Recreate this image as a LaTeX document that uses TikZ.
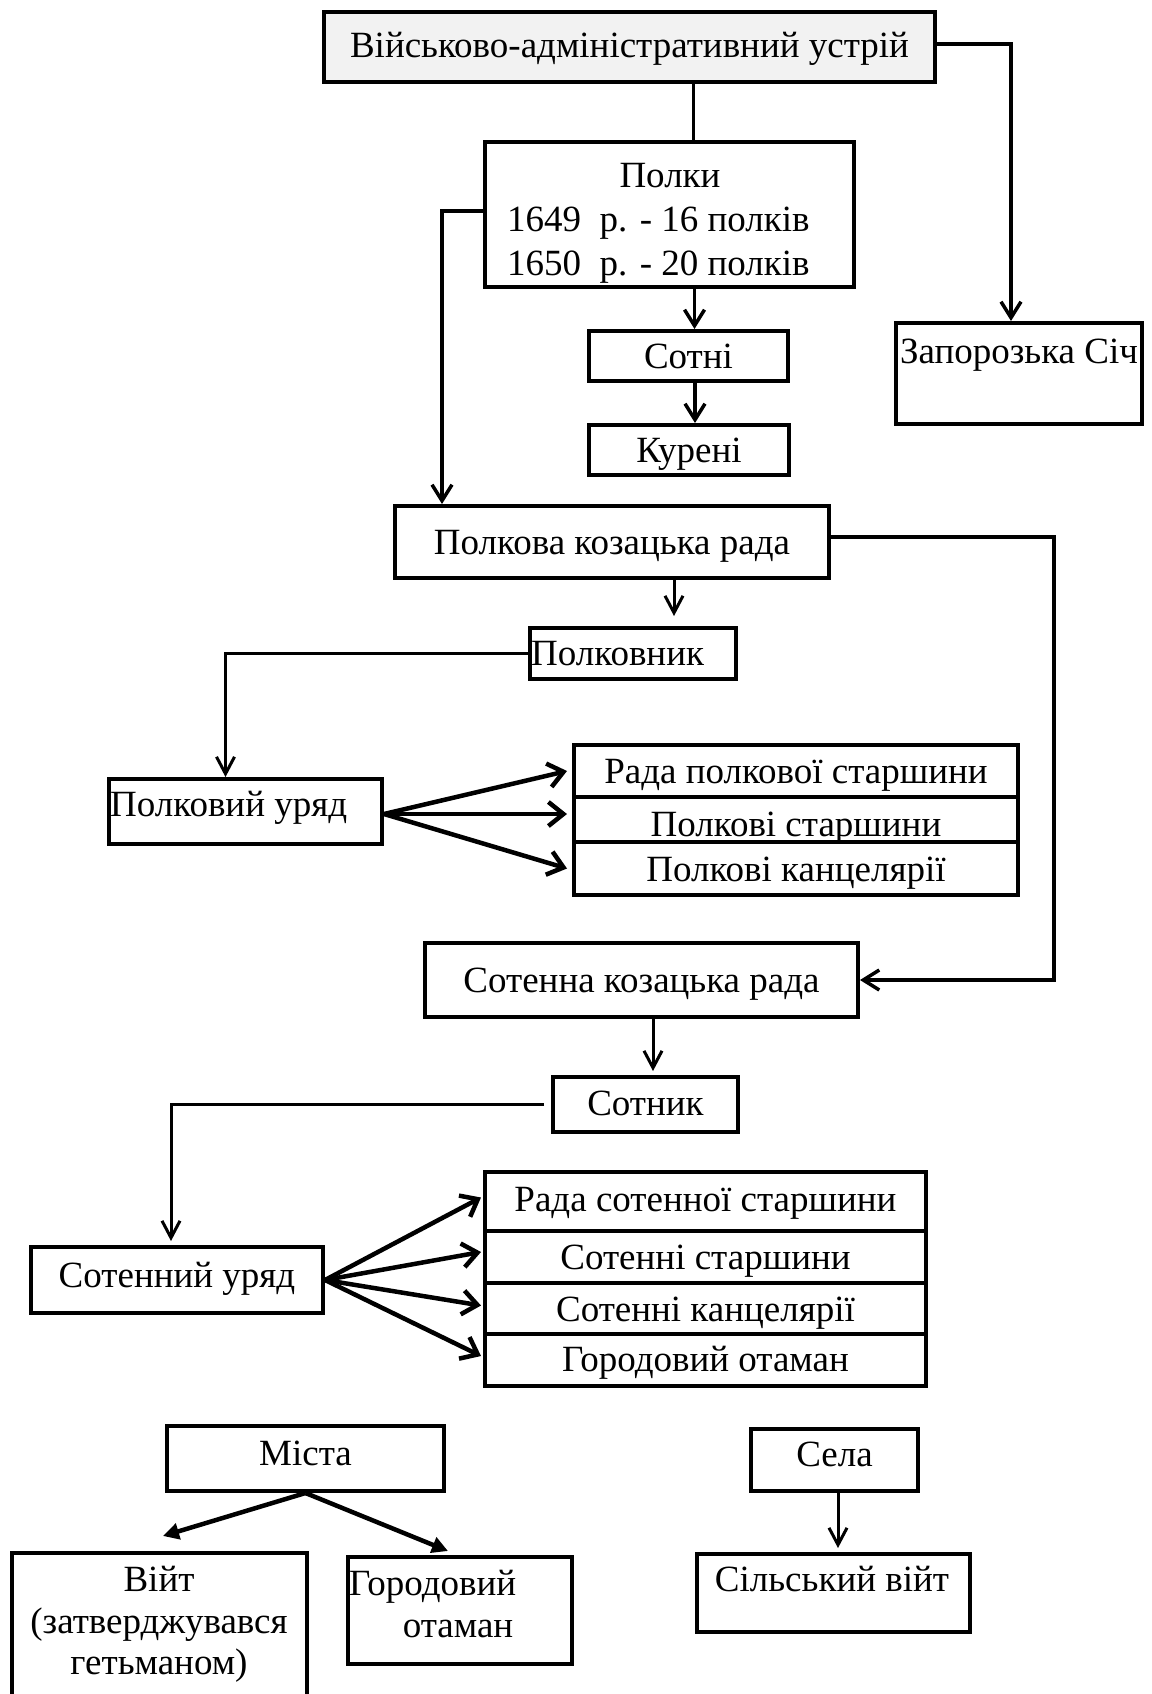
\documentclass[tikz,border=0pt]{standalone}
\usepackage{fontspec}
\setmainfont{Liberation Serif}
\usetikzlibrary{arrows.meta}
\definecolor{titlegray}{HTML}{F2F2F2}
\begin{document}
\begin{tikzpicture}[x=1pt,y=-1pt,
  box/.style={draw, line width=4pt, inner sep=0pt, text height=25pt, text depth=0pt, font=\fontsize{37}{44}\selectfont},
  txt/.style={inner sep=0pt, text height=25pt, text depth=0pt, font=\fontsize{37}{44}\selectfont},
  conn/.style={line width=3.5pt},
  arr/.style={line width=3.5pt, -{Straight Barb[length=16pt,width=20pt]}},
  arrt/.style={line width=3pt, -{Straight Barb[length=17pt,width=18pt]}},
  fan/.style={line width=4.5pt, -{Straight Barb[length=15pt,width=24pt]}},
  tri/.style={line width=4.5pt, -{Triangle[length=16pt,width=16pt]}},
]
\path[use as bounding box, fill=white] (0,0) rectangle (1151,1694);
\clip (0,0) rectangle (1151,1694);

% top part
\node[box, fill=titlegray, minimum width=611pt, minimum height=70pt, text depth=3pt] (title) at (629.5,47) {Військово-адміністративний устрій};
\node[box, minimum width=369pt, minimum height=145pt] (polky) at (669.5,214.5) {};
\node[txt] (polky-t1) at (670,175) {Полки};
\node[txt, anchor=west] (polky-t2) at (507,219) {1649\ \ р. - 16 полків};
\node[txt, anchor=west] (polky-t3) at (507,263) {1650\ \ р. - 20 полків};
\node[box, minimum width=199pt, minimum height=50pt] (sotni) at (688.5,356) {Сотні};
\node[box, minimum width=200pt, minimum height=50pt] (kureni) at (689,450) {Курені};
\node[box, minimum width=246pt, minimum height=101pt] (sich) at (1019,373.5) {};
\node[txt] (sich-t) at (1019,351) {Запорозька Січ};

% polk level
\node[box, minimum width=434pt, minimum height=72pt] (pkr) at (612,542) {Полкова козацька рада};
\node[box, minimum width=206pt, minimum height=51pt] (polkovnyk) at (633,653.5) {};
\node[txt, anchor=west] (polkovnyk-t) at (531,653) {Полковник};
\node[box, minimum width=273pt, minimum height=65pt] (puryad) at (245.5,811.5) {};
\node[txt, anchor=west] (puryad-t) at (110,803.5) {Полковий уряд};
\node[box, minimum width=444pt, minimum height=52pt] (rps) at (796,771) {Рада полкової старшини};
\node[box, minimum width=444pt, minimum height=45pt, text height=33.6pt] (ps) at (796,819.5) {Полкові старшини};
\node[box, minimum width=444pt, minimum height=53pt] (pk) at (796,868.5) {Полкові канцелярії};

% sotnia level
\node[box, minimum width=433pt, minimum height=74pt] (skr) at (641.5,980) {Сотенна козацька рада};
\node[box, minimum width=185pt, minimum height=55pt, text depth=3pt] (sotnyk) at (645.5,1104.5) {Сотник};
\node[box, minimum width=292pt, minimum height=66pt, text depth=11pt] (suryad) at (177,1280) {Сотенний уряд};
\node[box, minimum width=441pt, minimum height=59pt, text depth=6pt] (rss) at (705.5,1201.5) {Рада сотенної старшини};
\node[box, minimum width=441pt, minimum height=52pt] (ss) at (705.5,1257) {Сотенні старшини};
\node[box, minimum width=441pt, minimum height=51pt] (sk) at (705.5,1308.5) {Сотенні канцелярії};
\node[box, minimum width=441pt, minimum height=52pt, text depth=3pt] (go) at (705.5,1360) {Городовий отаман};

% bottom
\node[box, minimum width=277pt, minimum height=65pt, text depth=12pt] (mista) at (305.5,1458.5) {Міста};
\node[box, minimum width=295pt, minimum height=167pt] (viyt) at (159.5,1636.5) {};
\node[txt] (viyt-t1) at (159,1579) {Війт};
\node[txt] (viyt-t2) at (159,1621) {(затверджувався};
\node[txt] (viyt-t3) at (159,1662) {гетьманом)};
\node[box, minimum width=224pt, minimum height=107pt] (gorod) at (460,1610.5) {};
\node[txt, anchor=west] (gorod-t1) at (349,1583) {Городовий};
\node[txt] (gorod-t2) at (458,1625) {отаман};
\node[box, minimum width=167pt, minimum height=62pt, text depth=12pt] (sela) at (834.5,1460) {Села};
\node[box, minimum width=273pt, minimum height=78pt] (silviyt) at (833.5,1593) {};
\node[txt] (silviyt-t) at (832,1579) {Сільський війт};

% connectors
\draw[arr] ([yshift=3pt]title.east) -| ([xshift=-8pt]sich.north);
\draw[conn] ([xshift=64pt]title.south) -- ([xshift=64pt]title.south |- polky.north);
\draw[arr] ([xshift=6pt]sotni.north |- polky.south) -- ([xshift=6pt]sotni.north);
\draw[arr] ([xshift=6pt]kureni.north |- sotni.south) -- ([xshift=6pt]kureni.north);
\draw[arr] ([yshift=3.5pt]polky.west) -| ([xshift=-170pt]pkr.north);
\coordinate (rc) at (1054,700);
\draw[arr] ([yshift=5pt]pkr.east) -| (rc) |- (skr.east);
\draw[arrt, shorten >=10pt] ([xshift=41pt]polkovnyk.north |- pkr.south) -- ([xshift=41pt]polkovnyk.north);
\draw[arrt] (polkovnyk.west) -| ([xshift=-20pt]puryad.north);
\draw[fan] ([yshift=-2.5pt]puryad.east) -- ([xshift=-5pt]rps.west);
\draw[fan] ([yshift=-2.5pt]puryad.east) -- ([xshift=-5pt,yshift=5.5pt]ps.west);
\draw[fan] ([yshift=-2.5pt]puryad.east) -- ([xshift=-5pt]pk.west);
\draw[arrt, shorten >=4pt] ([xshift=7.5pt]sotnyk.north |- skr.south) -- ([xshift=7.5pt]sotnyk.north);
\draw[arrt, shorten <=7pt, shorten >=4pt] (sotnyk.west) -| ([xshift=-6pt]suryad.north);
\draw[fan] (suryad.east) -- ([xshift=-2pt,yshift=4pt]rss.west);
\draw[fan] (suryad.east) -- ([xshift=-2pt,yshift=5pt]ss.west);
\draw[fan] (suryad.east) -- ([xshift=-2pt,yshift=3pt]sk.west);
\draw[fan] (suryad.east) -- ([xshift=-2pt,yshift=4pt]go.west);
\draw[tri] (mista.south) -- ([xshift=3.5pt,yshift=15pt]viyt.north);
\draw[tri] (mista.south) -- ([xshift=-12pt,yshift=4pt]gorod.north);
\draw[arrt, shorten >=4pt] ([xshift=3.5pt]sela.south) -- ([xshift=3.5pt]sela.south |- silviyt.north);
\end{tikzpicture}
\end{document}
